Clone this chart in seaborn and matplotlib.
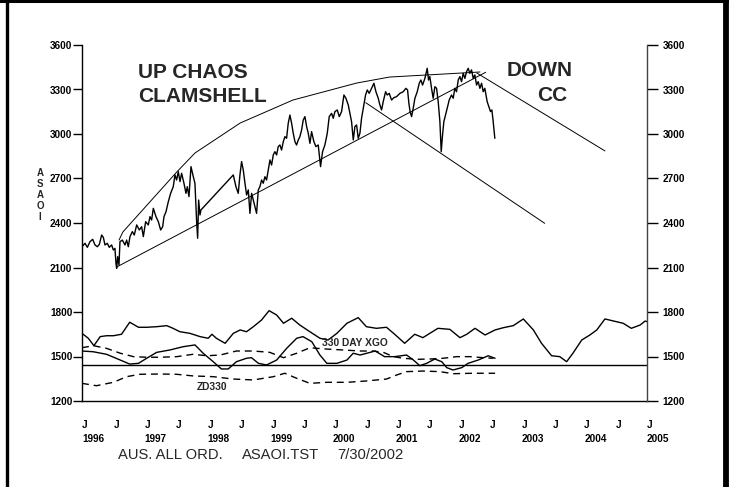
import matplotlib
matplotlib.use("Agg")
import matplotlib.pyplot as plt
from matplotlib.lines import Line2D
import seaborn as sns

# price (ASAOI); x in fractional years
price_year = [
    1996.000, 1996.048, 1996.085, 1996.127, 1996.170, 1996.207, 1996.244, 1996.276,
    1996.313, 1996.340, 1996.366, 1996.403, 1996.435, 1996.472, 1996.499, 1996.525,
    1996.541, 1996.552, 1996.568, 1996.589, 1996.605, 1996.642, 1996.685, 1996.711,
    1996.738, 1996.764, 1996.802, 1996.833, 1996.871, 1996.913, 1996.950, 1996.977,
    1997.014, 1997.056, 1997.083, 1997.109, 1997.136, 1997.178, 1997.216, 1997.253,
    1997.285, 1997.306, 1997.338, 1997.375, 1997.412, 1997.454, 1997.481, 1997.507,
    1997.534, 1997.561, 1997.587, 1997.624, 1997.656, 1997.677, 1997.704, 1997.736,
    1997.773, 1997.799, 1997.826, 1997.842, 1997.858, 1997.879, 1997.895, 1998.410,
    1998.452, 1998.489, 1998.516, 1998.542, 1998.569, 1998.596, 1998.622, 1998.649,
    1998.675, 1998.702, 1998.728, 1998.781, 1998.808, 1998.834, 1998.861, 1998.887,
    1998.914, 1998.940, 1998.967, 1998.994, 1999.020, 1999.047, 1999.073, 1999.100,
    1999.126, 1999.153, 1999.179, 1999.206, 1999.232, 1999.259, 1999.285, 1999.312,
    1999.339, 1999.365, 1999.392, 1999.418, 1999.445, 1999.471, 1999.498, 1999.524,
    1999.551, 1999.578, 1999.604, 1999.631, 1999.657, 1999.694, 1999.726, 1999.763,
    1999.800, 1999.832, 1999.869, 1999.907, 1999.938, 1999.976, 2000.002, 2000.029,
    2000.066, 2000.098, 2000.135, 2000.172, 2000.204, 2000.241, 2000.268, 2000.294,
    2000.321, 2000.347, 2000.374, 2000.400, 2000.427, 2000.453, 2000.490, 2000.517,
    2000.544, 2000.575, 2000.613, 2000.650, 2000.682, 2000.719, 2000.745, 2000.772,
    2000.798, 2000.836, 2000.862, 2000.894, 2000.931, 2000.968, 2001.011, 2001.064,
    2001.117, 2001.159, 2001.186, 2001.207, 2001.226, 2001.250, 2001.276, 2001.303,
    2001.340, 2001.372, 2001.398, 2001.425, 2001.462, 2001.499, 2001.520, 2001.541,
    2001.568, 2001.594, 2001.621, 2001.648, 2001.674, 2001.701, 2001.722, 2001.743,
    2001.764, 2001.791, 2001.817, 2001.849, 2001.886, 2001.913, 2001.939, 2001.966,
    2001.993, 2002.019, 2002.046, 2002.072, 2002.099, 2002.125, 2002.152, 2002.178,
    2002.205, 2002.232, 2002.258, 2002.285, 2002.311, 2002.338, 2002.365, 2002.391,
    2002.417, 2002.454, 2002.481, 2002.507, 2002.529, 2002.550, 2002.576,
]
price_value = [
    2240, 2263, 2236, 2274, 2290, 2252, 2240, 2256,
    2319, 2303, 2252, 2263, 2236, 2252, 2218, 2229,
    2128, 2094, 2173, 2117, 2274, 2285, 2252, 2285,
    2240, 2308, 2342, 2319, 2387, 2353, 2375, 2308,
    2409, 2387, 2443, 2420, 2499, 2443, 2409, 2353,
    2375, 2443, 2476, 2544, 2600, 2645, 2724, 2690,
    2746, 2679, 2735, 2668, 2600, 2645, 2578, 2780,
    2712, 2668, 2409, 2297, 2555, 2454, 2488, 2724,
    2645, 2600, 2724, 2814, 2757, 2668, 2589, 2623,
    2465, 2600, 2555, 2465, 2623, 2645, 2690, 2668,
    2712, 2690, 2757, 2825, 2791, 2859, 2881, 2859,
    2915, 2926, 2892, 2948, 2982, 2971, 3072, 3128,
    3072, 3005, 2948, 2926, 2960, 2982, 3027, 3094,
    3117, 3050, 3005, 2937, 3016, 2948, 2915, 2926,
    2780, 2881, 2926, 3005, 3117, 3139, 3106, 3151,
    3162, 3117, 3151, 3263, 3241, 3196, 3139, 3083,
    2960, 3050, 3061, 2971, 3005, 3106, 3196, 3263,
    3297, 3274, 3308, 3342, 3285, 3241, 3196, 3162,
    3218, 3285, 3263, 3274, 3229, 3245, 3252, 3274,
    3285, 3308, 3297, 3207, 3151, 3117, 3173, 3241,
    3285, 3342, 3364, 3330, 3375, 3443, 3364, 3387,
    3308, 3241, 3319, 3308, 3218, 3083, 2881, 2993,
    3083, 3128, 3173, 3229, 3263, 3241, 3308, 3285,
    3364, 3387, 3353, 3409, 3375, 3420, 3443, 3409,
    3432, 3375, 3398, 3330, 3353, 3308, 3342, 3285,
    3308, 3218, 3184, 3151, 3162, 3083, 2971,
]

# clamshell envelope and trend lines
env_year = [1996.59, 1996.65, 1997.51, 1997.80, 1998.52, 1999.36, 2000.38, 2000.90, 2002.34]
env_value = [2285, 2339, 2744, 2872, 3074, 3229, 3344, 3384, 3418]
low_trend_year = [1996.56, 2002.43]
low_trend_value = [2105, 3416]
down_trend_year = [2002.29, 2004.33]
down_trend_value = [3411, 2886]
down_trend2_year = [2000.52, 2003.37]
down_trend2_value = [3211, 2398]

# 330 day XGO (projected out to 2005)
xgo_year = [
    1996.00, 1996.10, 1996.19, 1996.29, 1996.39, 1996.50, 1996.63, 1996.76,
    1996.90, 1997.03, 1997.19, 1997.35, 1997.45, 1997.56, 1997.72, 1997.88,
    1998.01, 1998.07, 1998.14, 1998.28, 1998.41, 1998.52, 1998.62, 1998.73,
    1998.86, 1998.98, 1999.10, 1999.21, 1999.34, 1999.47, 1999.63, 1999.79,
    1999.92, 2000.06, 2000.22, 2000.40, 2000.53, 2000.69, 2000.85, 2000.98,
    2001.14, 2001.30, 2001.43, 2001.54, 2001.67, 2001.86, 2002.02, 2002.13,
    2002.26, 2002.42, 2002.58, 2002.71, 2002.87, 2003.03, 2003.19, 2003.32,
    2003.48, 2003.61, 2003.72, 2003.82, 2003.96, 2004.09, 2004.20, 2004.33,
    2004.51, 2004.62, 2004.75, 2004.89, 2004.97, 2005.00,
]
xgo_value = [
    1656, 1623, 1573, 1634, 1640, 1640, 1650, 1731,
    1697, 1697, 1701, 1708, 1690, 1667, 1656, 1634,
    1623, 1650, 1623, 1589, 1656, 1679, 1667, 1701,
    1746, 1809, 1780, 1724, 1758, 1712, 1667, 1623,
    1611, 1656, 1724, 1762, 1701, 1690, 1697, 1650,
    1589, 1650, 1627, 1656, 1690, 1683, 1627, 1650,
    1690, 1645, 1679, 1694, 1708, 1753, 1679, 1589,
    1505, 1499, 1465, 1522, 1611, 1645, 1679, 1753,
    1735, 1724, 1690, 1712, 1739, 1735,
]

# second oscillator (solid)
osc_year = [
    1996.00, 1996.18, 1996.39, 1996.61, 1996.76, 1996.90, 1997.03, 1997.19,
    1997.40, 1997.61, 1997.80, 1997.93, 1998.09, 1998.22, 1998.33, 1998.46,
    1998.62, 1998.70, 1998.81, 1998.94, 1999.10, 1999.26, 1999.42, 1999.52,
    1999.66, 1999.79, 1999.90, 2000.06, 2000.22, 2000.32, 2000.43, 2000.67,
    2000.82, 2000.98, 2001.17, 2001.28, 2001.38, 2001.49, 2001.62, 2001.73,
    2001.81, 2001.91, 2002.05, 2002.15, 2002.31, 2002.47, 2002.58,
]
osc_value = [
    1537, 1532, 1515, 1476, 1449, 1454, 1488, 1528,
    1544, 1566, 1578, 1522, 1465, 1416, 1416, 1465,
    1488, 1492, 1454, 1443, 1476, 1555, 1623, 1634,
    1600, 1510, 1454, 1454, 1476, 1522, 1510, 1537,
    1499, 1499, 1510, 1476, 1438, 1454, 1483, 1465,
    1425, 1409, 1425, 1454, 1476, 1505, 1488,
]

# dashed bands
band_hi_year = [
    1996.00, 1996.18, 1996.39, 1996.61, 1996.82, 1997.03, 1997.24, 1997.51,
    1997.77, 1997.99, 1998.20, 1998.46, 1998.73, 1998.99, 1999.21, 1999.42,
    1999.63, 1999.90, 2000.16, 2000.43, 2000.64, 2000.80, 2000.96, 2001.12,
    2001.33, 2001.54, 2001.75, 2001.97, 2002.18, 2002.39, 2002.55,
]
band_hi_value = [
    1559, 1573, 1555, 1522, 1499, 1495, 1495, 1499,
    1515, 1505, 1510, 1537, 1537, 1528, 1492, 1522,
    1559, 1550, 1544, 1537, 1537, 1528, 1499, 1488,
    1481, 1483, 1488, 1499, 1499, 1492, 1488,
]
zd330_year = [
    1996.00, 1996.23, 1996.50, 1996.71, 1996.92, 1997.24, 1997.51, 1997.77,
    1998.09, 1998.41, 1998.73, 1999.05, 1999.23, 1999.42, 1999.63, 1999.90,
    2000.22, 2000.53, 2000.85, 2001.01, 2001.17, 2001.43, 2001.70, 2001.91,
    2002.23, 2002.58,
]
zd330_value = [
    1319, 1303, 1326, 1364, 1380, 1382, 1380, 1369,
    1364, 1348, 1342, 1364, 1387, 1353, 1319, 1326,
    1326, 1335, 1348, 1375, 1398, 1402, 1398, 1384,
    1387, 1387,
]
zero_line = 1440

y_ticks = [1200, 1500, 1800, 2100, 2400, 2700, 3000, 3300, 3600]
x_ticks = [1996 + 0.5 * i for i in range(19)]
years = list(range(1996, 2006))
x_labels = []
for yr in years:
    x_labels.append(f"J\n{yr}")
    if yr != 2005:
        x_labels.append("J")


def draw_series(ax):
    lw = 1.0
    sns.lineplot(x=price_year, y=price_value, ax=ax, color="black", lw=1.0, estimator=None)
    for xs, ys in [
        (env_year, env_value),
        (low_trend_year, low_trend_value),
        (down_trend_year, down_trend_value),
        (down_trend2_year, down_trend2_value),
    ]:
        sns.lineplot(x=xs, y=ys, ax=ax, color="black", lw=0.7, estimator=None)

    sns.lineplot(x=xgo_year, y=xgo_value, ax=ax, color="black", lw=lw, estimator=None)
    sns.lineplot(x=osc_year, y=osc_value, ax=ax, color="black", lw=lw, estimator=None)
    sns.lineplot(x=band_hi_year, y=band_hi_value, ax=ax, color="black", lw=lw,
                 linestyle=(0, (5, 3.5)), estimator=None)
    sns.lineplot(x=zd330_year, y=zd330_value, ax=ax, color="black", lw=lw,
                 linestyle=(0, (5, 3.5)), estimator=None)
    ax.axhline(zero_line, color="black", lw=1.0)


def style_axes(ax, ax2):
    tick_font = dict(fontsize=7.2, fontweight="bold")
    ax.set_xlim(1996, 2005)
    ax.set_ylim(1200, 3600)
    ax2.set_ylim(1200, 3600)

    ax.set_yticks(y_ticks)
    ax.set_yticklabels([str(v) for v in y_ticks], **tick_font)
    ax2.set_yticks(y_ticks)
    ax2.set_yticklabels([str(v) for v in y_ticks], **tick_font)

    ax.set_xticks(x_ticks)
    ax.set_xticklabels(x_labels, ha="left", **tick_font)
    for lab in ax.get_xticklabels():
        lab.set_linespacing(1.45)

    ax.tick_params(axis="x", direction="out", length=12.5, width=1.0, pad=1.2, colors="black")
    ax.tick_params(axis="y", direction="out", length=6.5, width=1.0, pad=0.5, colors="black")
    ax2.tick_params(axis="y", direction="out", length=8, width=1.0, pad=3, colors="black")

    ax.set_xlabel("")
    ax.set_ylabel("")
    for name, sp in ax.spines.items():
        sp.set_visible(name in ("left", "bottom"))
        sp.set_color("black")
        sp.set_linewidth(1.0)
    for name, sp in ax2.spines.items():
        sp.set_visible(name == "right")
        sp.set_color("#444444")
        sp.set_linewidth(1.0)
    ax.grid(False)


def annotate(fig, ax):
    big = dict(fontsize=15, fontweight="bold", va="baseline", ha="left")
    ax.text(1996.89, 3378, "UP CHAOS", **big)
    ax.text(1996.89, 3214, "CLAMSHELL", **big)
    ax.text(2002.77, 3391, "DOWN", **big)
    ax.text(2003.25, 3225, "CC", **big)

    small = dict(fontsize=7.4, fontweight="bold", va="baseline", ha="left")
    ax.text(1999.82, 1571, "330 DAY XGO", **small)
    ax.text(1997.82, 1274, "ZD330", **small)

    W, H = 729, 487
    fig.text(40 / W, 1 - 195 / H, "A\nS\nA\nO\nI", ha="center", va="center",
             fontsize=7, fontweight="bold", linespacing=1.1)

    foot = dict(fontsize=10.6, va="baseline", ha="left")
    fig.text(118 / W, 1 - 459 / H, "AUS. ALL ORD.", **foot)
    fig.text(242 / W, 1 - 459 / H, "ASAOI.TST", **foot)
    fig.text(337 / W, 1 - 459 / H, "7/30/2002", **foot)

    # page frame
    fig.add_artist(Line2D([6.5 / W, 6.5 / W], [0, 1], transform=fig.transFigure,
                          color="black", lw=2.4))
    fig.add_artist(Line2D([0, 1], [1 - 1.3 / H, 1 - 1.3 / H], transform=fig.transFigure,
                          color="black", lw=2.2))
    fig.add_artist(Line2D([726 / W, 726 / W], [0, 1], transform=fig.transFigure,
                          color="black", lw=4.2))


def main():
    sns.set_style("white")
    plt.rcParams["font.family"] = ["Liberation Sans", "DejaVu Sans"]

    W, H = 729, 487
    fig = plt.figure(figsize=(W / 100, H / 100), dpi=100)
    fig.patch.set_facecolor("white")
    ax = fig.add_axes([82 / W, 1 - 401 / H, (647 - 82) / W, (401 - 45) / H])
    ax2 = ax.twinx()

    draw_series(ax)
    style_axes(ax, ax2)
    annotate(fig, ax)

    fig.savefig("out.png", dpi=100)
    plt.close(fig)


if __name__ == "__main__":
    main()
